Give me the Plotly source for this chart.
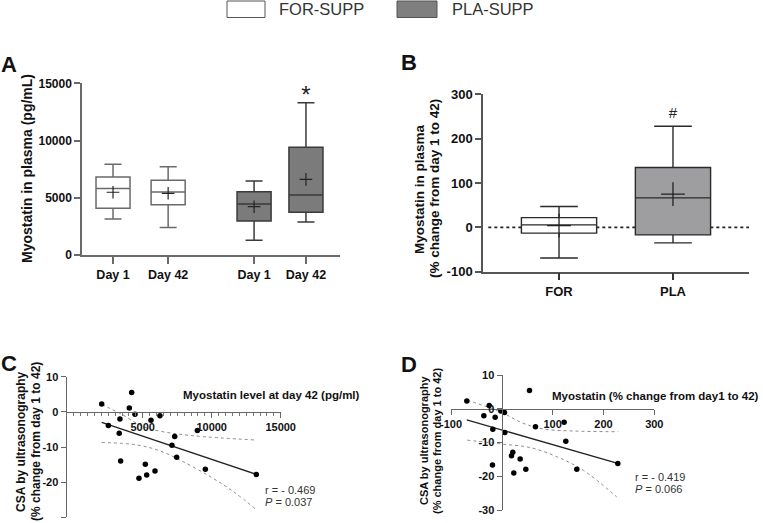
import plotly.graph_objects as go

# ---------------- data ----------------
legend_labels = ["FOR-SUPP", "PLA-SUPP"]

# Panel A: myostatin in plasma (pg/mL)
A_labels = ["Day 1", "Day 42", "Day 1", "Day 42"]
A_group = ["FOR-SUPP", "FOR-SUPP", "PLA-SUPP", "PLA-SUPP"]
A_min = [3150, 2400, 1280, 2880]
A_q1 = [4080, 4400, 2970, 3730]
A_med = [5820, 5500, 4450, 5240]
A_q3 = [6820, 6520, 5530, 9410]
A_max = [7920, 7720, 6470, 13310]
A_mean = [5480, 5390, 4220, 6610]
A_ticks = [0, 5000, 10000, 15000]
A_ticktext = ["0", "5000", "10000", "15000"]
A_star = ["", "", "", "*"]

# Panel B: % change from day 1 to 42
B_labels = ["FOR", "PLA"]
B_min = [-69, -35]
B_q1 = [-13, -17]
B_med = [5.5, 66.5]
B_q3 = [22, 135]
B_max = [47, 228]
B_mean = [4, 75]
B_ticks = [-100, 0, 100, 200, 300]
B_ticktext = ["-100", "0", "100", "200", "300"]
B_mark = ["", "#"]

# Panel C: CSA vs myostatin day 42
C_x = [2030, 4200, 4030, 4440, 3350, 5600, 6250, 2510, 3300, 8960,
       7320, 7120, 7460, 3400, 5190, 5290, 4730, 5890, 9540, 13230]
C_y = [2.2, 5.5, 1.1, -0.7, -2.0, -2.4, -1.1, -3.9, -6.1, -5.3,
       -7.0, -9.5, -12.9, -14.0, -14.9, -18.0, -18.9, -16.8, -16.3, -17.8]
C_fit_x = [2030, 13250]
C_fit_y = [-3.0, -17.8]
C_up_x = [2030, 3480, 5040, 6250, 8670, 13140]
C_up_y = [2.1, -0.7, -4.2, -5.5, -6.8, -8.0]
C_lo_x = [2030, 4565, 6250, 7700, 9880, 11570, 13260]
C_lo_y = [-8.7, -9.4, -11.1, -13.7, -18.4, -22.7, -27.9]
C_xticks = [5000, 10000, 15000]
C_xticktext = ["5000", "10000", "15000"]
C_minor = [v for v in range(-500, 15001, 500)]
C_yticks = [-30, -20, -10, 0, 10]
C_yticktext = ["-30", "-20", "-10", "0", "10"]
C_stats = ["r = - 0.469", "<i>P</i> = 0.037"]

# Panel D: CSA vs myostatin % change
D_x = [-68.9, -24.9, -35.4, -13.1, -2.0, 5.2, 54.4, 66.2, 122.6, -17.7,
       5.9, 125.9, 21.6, 19.0, 36.1, -18.4, 47.2, 23.6, 147.5, 228.2]
D_y = [2.3, 1.0, -2.1, -2.5, -0.7, -1.1, 5.4, -5.3, -4.0, -6.1,
       -7.0, -9.6, -12.9, -13.9, -14.9, -16.7, -17.9, -19.0, -17.9, -16.2]
D_fit_x = [-69, 228]
D_fit_y = [-3.3, -16.2]
D_up_x = [-68, -3, 42, 82, 141, 229]
D_up_y = [2.5, -0.9, -4.3, -6.0, -6.6, -6.8]
D_lo_x = [-68, 3, 56, 108, 160, 226]
D_lo_y = [-9.3, -10.5, -11.5, -14.2, -18.2, -26.1]
D_xticks = [-100, 100, 200, 300]
D_xticktext = ["-100", "100", "200", "300"]
D_yticks = [-30, -20, -10, 0, 10]
D_yticktext = ["-30", "-20", "-10", "0", "10"]
D_stats = ["r = - 0.419", "<i>P</i> = 0.066"]

# ---------------- layout helpers ----------------
W, H = 763, 523
def X(px):
    return px / W
def Y(py):
    return 1 - py / H

FONT = "Arial, 'Liberation Sans', sans-serif"
A_pos = [1, 2.02, 3.61, 4.57]
B_pos = [1, 2]
fill_A = {"FOR-SUPP": "white", "PLA-SUPP": "#7b7b7b"}
line_A = {"FOR-SUPP": "#6a6a6a", "PLA-SUPP": "#3a3a3a"}

fig = go.Figure()

# Panel A boxes
for i in range(len(A_labels)):
    g = A_group[i]
    fig.add_trace(go.Box(
        x=[A_pos[i]], q1=[A_q1[i]], median=[A_med[i]], q3=[A_q3[i]],
        lowerfence=[A_min[i]], upperfence=[A_max[i]],
        width=0.63, whiskerwidth=0.5, fillcolor=fill_A[g],
        line=dict(color=line_A[g], width=1.5), xaxis="x", yaxis="y",
        hoverinfo="skip"))
fig.add_trace(go.Scatter(
    x=A_pos, y=A_mean, mode="markers", xaxis="x", yaxis="y",
    marker=dict(symbol="cross-thin", size=9, line=dict(color="#222", width=1.2))))
fig.add_trace(go.Scatter(
    x=A_pos, y=[m + 470 if s else None for m, s in zip(A_max, A_star)],
    text=A_star, mode="text", textposition="middle center",
    textfont=dict(size=24, color="#222", family=FONT),
    xaxis="x", yaxis="y", cliponaxis=False))

# Panel B boxes
fill_B = ["white", "#9e9ea1"]
for i in range(len(B_labels)):
    fig.add_trace(go.Box(
        x=[B_pos[i]], q1=[B_q1[i]], median=[B_med[i]], q3=[B_q3[i]],
        lowerfence=[B_min[i]], upperfence=[B_max[i]],
        width=0.66, whiskerwidth=0.5, fillcolor=fill_B[i],
        line=dict(color="#2a2a2a", width=1.4), xaxis="x2", yaxis="y2",
        hoverinfo="skip"))
fig.add_trace(go.Scatter(
    x=B_pos, y=B_mean, mode="markers", xaxis="x2", yaxis="y2",
    marker=dict(symbol="cross-thin", size=17, line=dict(color="#222", width=1.3))))
fig.add_trace(go.Scatter(
    x=B_pos, y=[m + 26 if s else None for m, s in zip(B_max, B_mark)],
    text=B_mark, mode="text", textfont=dict(size=15, color="#222", family=FONT),
    xaxis="x2", yaxis="y2", cliponaxis=False))

# Panel C scatter
for bx, by in [(C_up_x, C_up_y), (C_lo_x, C_lo_y)]:
    fig.add_trace(go.Scatter(x=bx, y=by, mode="lines", xaxis="x3", yaxis="y3",
                             line=dict(color="#8c8c8c", width=1, dash="dot", shape="spline")))
fig.add_trace(go.Scatter(x=C_fit_x, y=C_fit_y, mode="lines", xaxis="x3", yaxis="y3",
                         line=dict(color="#222", width=1.3)))
fig.add_trace(go.Scatter(x=C_x, y=C_y, mode="markers", xaxis="x3", yaxis="y3",
                         marker=dict(color="black", size=5.5), cliponaxis=False))

# Panel D scatter
for bx, by in [(D_up_x, D_up_y), (D_lo_x, D_lo_y)]:
    fig.add_trace(go.Scatter(x=bx, y=by, mode="lines", xaxis="x4", yaxis="y4",
                             line=dict(color="#8c8c8c", width=1, dash="dot", shape="spline")))
fig.add_trace(go.Scatter(x=D_fit_x, y=D_fit_y, mode="lines", xaxis="x4", yaxis="y4",
                         line=dict(color="#222", width=1.3)))
fig.add_trace(go.Scatter(x=D_x, y=D_y, mode="markers", xaxis="x4", yaxis="y4",
                         marker=dict(color="black", size=5.5), cliponaxis=False))

axis_common = dict(showgrid=False, zeroline=False, showline=True, ticks="outside",
                   automargin=False, fixedrange=True, tickmode="array")

fig.update_layout(
    width=W, height=H, margin=dict(l=0, r=0, t=0, b=0),
    paper_bgcolor="white", plot_bgcolor="rgba(0,0,0,0)", showlegend=False,
    font=dict(family=FONT, color="#222"),
    xaxis=dict(**axis_common, domain=[X(82), X(340)], range=[0.426, 5.2], anchor="y",
               tickvals=A_pos, ticktext=A_labels, linecolor="#6a6a6a", linewidth=1.5,
               tickcolor="#6a6a6a", tickwidth=1.5, ticklen=7,
               tickfont=dict(size=12.5, weight="bold", color="#111")),
    yaxis=dict(**axis_common, domain=[Y(255), Y(83.3)], range=[0, 15000], anchor="x",
               tickvals=A_ticks, ticktext=A_ticktext, linecolor="#6a6a6a", linewidth=1.5,
               tickcolor="#6a6a6a", tickwidth=1.5, ticklen=6,
               tickfont=dict(size=12, weight="bold", color="#111")),
    xaxis2=dict(**axis_common, domain=[X(483), X(749)], range=[0.333, 2.667], anchor="y2",
                tickvals=B_pos, ticktext=B_labels, linecolor="#555", linewidth=1.5,
                tickcolor="#333", tickwidth=1.5, ticklen=7,
                tickfont=dict(size=13, weight="bold", color="#111")),
    yaxis2=dict(**axis_common, domain=[Y(271.7), Y(94.3)], range=[-100, 300], anchor="x2",
                tickvals=B_ticks, ticktext=B_ticktext, linecolor="#555", linewidth=1.5,
                tickcolor="#555", tickwidth=1.5, ticklen=6,
                tickfont=dict(size=13, weight="bold", color="#111")),
    xaxis3=dict(**axis_common, domain=[X(66.7), X(280.7)], range=[-507, 15000],
                anchor="free", position=Y(411.8), tickvals=C_xticks, ticktext=C_xticktext,
                linecolor="#666", linewidth=1.3, tickcolor="#666", tickwidth=1.2, ticklen=5,
                minor=dict(tickmode="array", tickvals=C_minor, ticks="outside", ticklen=3,
                           tickcolor="#777", tickwidth=1, showgrid=False),
                tickfont=dict(size=11, weight="bold", color="#111")),
    yaxis3=dict(**axis_common, domain=[Y(517.3), Y(376.7)], range=[-30, 10], anchor="x3",
                tickvals=C_yticks, ticktext=C_yticktext, linecolor="#666", linewidth=1.3,
                tickcolor="#666", tickwidth=1.2, ticklen=5,
                tickfont=dict(size=11, weight="bold", color="#111")),
    xaxis4=dict(**axis_common, domain=[X(451), X(654.3)], range=[-100, 300],
                anchor="free", position=Y(408.7), tickvals=D_xticks, ticktext=D_xticktext,
                linecolor="#666", linewidth=1.3, tickcolor="#666", tickwidth=1.2, ticklen=5,
                tickfont=dict(size=11, weight="bold", color="#111")),
    yaxis4=dict(**axis_common, domain=[Y(510), Y(375)], range=[-30, 10],
                anchor="free", position=X(501.7), tickvals=D_yticks, ticktext=D_yticktext,
                linecolor="#666", linewidth=1.3, tickcolor="#666", tickwidth=1.2, ticklen=5,
                tickfont=dict(size=11, weight="bold", color="#111")),
)

# dotted zero line in panel B
fig.add_shape(type="line", xref="x2 domain", yref="y2", x0=0.02, x1=1, y0=0, y1=0,
              line=dict(color="#222", width=1.6, dash="dot"), layer="below")

# legend drawn as shapes + text
fig.add_shape(type="rect", xref="paper", yref="paper", x0=X(227), x1=X(265), y0=Y(17.5), y1=Y(1),
              line=dict(color="#555", width=1), fillcolor="white")
fig.add_shape(type="rect", xref="paper", yref="paper", x0=X(397), x1=X(437), y0=Y(17.5), y1=Y(1),
              line=dict(color="#555", width=1), fillcolor="#7f7f7f")

ann = []
def text(x, y, t, size, bold=False, angle=0, xanchor="center", color="#222"):
    ann.append(dict(x=X(x), y=Y(y), xref="paper", yref="paper", text=t, showarrow=False,
                    textangle=angle, xanchor=xanchor, yanchor="middle",
                    font=dict(size=size, family=FONT, color=color,
                              weight="bold" if bold else "normal")))

text(277, 9.5, legend_labels[0], 16.5, xanchor="left", color="#333")
text(450, 9.5, legend_labels[1], 16.5, xanchor="left", color="#333")

text(9, 64, "A", 22, bold=True, color="#111")
text(409, 62, "B", 22, bold=True, color="#111")
text(9, 363, "C", 22, bold=True, color="#111")
text(409, 364, "D", 22, bold=True, color="#111")

text(27, 169, "Myostatin in plasma (pg/mL)", 14, bold=True, angle=-90, color="#111")
text(419, 189, "Myostatin in plasma", 13.5, bold=True, angle=-90, color="#111")
text(434, 189, "(% change from day 1 to 42)", 13.5, bold=True, angle=-90, color="#111")

text(21, 442, "CSA by ultrasonography", 12, bold=True, angle=-90, color="#111")
text(36, 442, "(% change from day 1 to 42)", 12, bold=True, angle=-90, color="#111")
text(424, 441, "CSA by ultrasonography", 11, bold=True, angle=-90, color="#111")
text(437, 441, "(% change from day 1 to 42)", 11, bold=True, angle=-90, color="#111")

text(362, 395, "Myostatin level at day 42 (pg/ml)", 11.5, bold=True, xanchor="right", color="#111")
text(761, 396, "Myostatin (% change from day1 to 42)", 11.5, bold=True, xanchor="right", color="#111")

text(263, 490, C_stats[0], 11, xanchor="left", color="#333")
text(263, 502, C_stats[1], 11, xanchor="left", color="#333")
text(633, 477, D_stats[0], 11, xanchor="left", color="#333")
text(633, 489, D_stats[1], 11, xanchor="left", color="#333")

fig.update_layout(annotations=ann)

fig.write_html("out.html", config={"displayModeBar": False},
               post_script="document.body.style.margin='0';")
